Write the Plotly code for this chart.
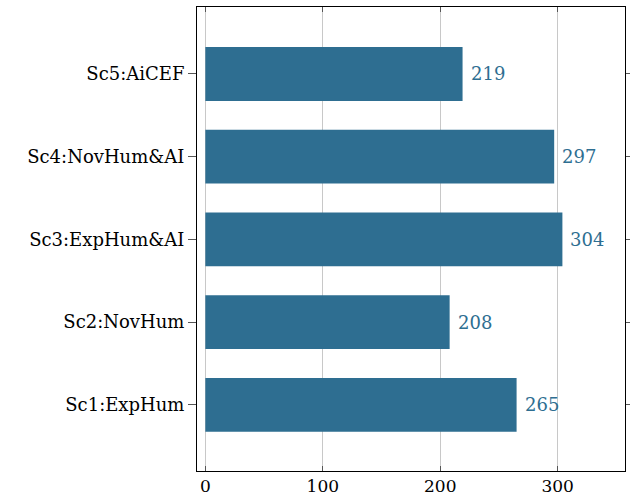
import plotly.graph_objects as go

# Scenario scores
scenarios = ["Sc1:ExpHum", "Sc2:NovHum", "Sc3:ExpHum&AI", "Sc4:NovHum&AI", "Sc5:AiCEF"]
scores = [265, 208, 304, 297, 219]
x_ticks = [0, 100, 200, 300]

bar_color = "rgb(46,110,145)"
font_family = "DejaVu Serif"

fig = go.Figure()
fig.add_trace(go.Bar(
    y=list(range(len(scenarios))),
    x=scores,
    orientation="h",
    width=0.65,
    marker=dict(color=bar_color, line=dict(width=0)),
    hoverinfo="skip",
))

for i, v in enumerate(scores):
    fig.add_annotation(
        x=v, y=i, text=str(v), showarrow=False,
        xanchor="left", yanchor="middle", xshift=6,
        font=dict(family=font_family, size=18, color=bar_color),
    )

fig.update_layout(
    width=630, height=497,
    margin=dict(l=197, r=5, t=7, b=26),
    paper_bgcolor="white", plot_bgcolor="white",
    showlegend=False,
    font=dict(family=font_family, size=16, color="black"),
    xaxis=dict(
        range=[-7.1, 357.3],
        tickvals=x_ticks,
        ticks="inside", ticklen=5, tickcolor="#555", tickwidth=1,
        showgrid=True, gridcolor="#c8c8c8", gridwidth=1,
        zeroline=False, automargin=False,
        showline=True, linecolor="black", linewidth=1, mirror="ticks",
        tickfont=dict(family=font_family, size=17),
    ),
    yaxis=dict(
        range=[-0.8, 4.81],
        tickvals=list(range(len(scenarios))),
        ticktext=scenarios,
        ticks="outside", ticklen=8, tickcolor="#555", tickwidth=1,
        showgrid=False, zeroline=False, automargin=False,
        showline=True, linecolor="black", linewidth=1, mirror="ticks",
        tickfont=dict(family=font_family, size=18),
    ),
)

fig.write_html("out.html")
